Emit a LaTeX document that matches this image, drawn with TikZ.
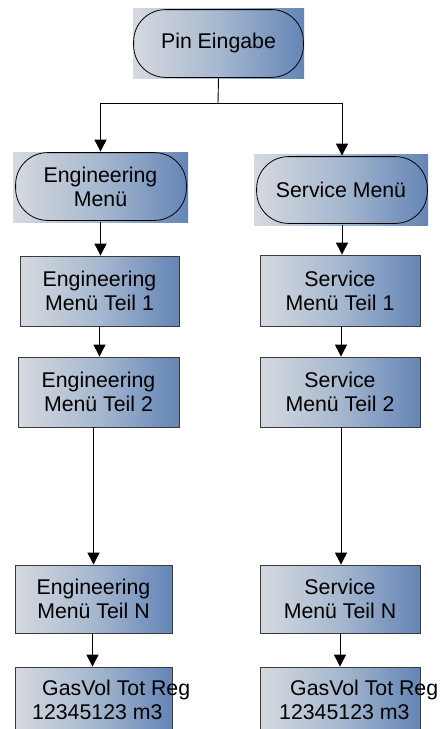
\documentclass[tikz,border=0pt]{standalone}
\usepackage{fontspec}
\setmainfont{Liberation Sans}
\usetikzlibrary{calc,arrows.meta}
\definecolor{shL}{HTML}{D6D9DF}
\definecolor{shM}{HTML}{A6B8CF}
\definecolor{shR}{HTML}{6485B6}
\definecolor{edge}{HTML}{3A3A3A}
\tikzset{
  shbox/.style={rectangle, inner sep=0pt, left color=shL, right color=shR, middle color=shM,
     draw=edge, line width=0.8pt, align=center,
     font=\fontsize{21.3pt}{24pt}\selectfont},
  stadbg/.style={shbox, draw=none},
  stadline/.style={draw=black, line width=0.8pt, rounded corners=32pt},
  txt/.style={inner sep=0pt, align=left, anchor=west, font=\fontsize{21.3pt}{24pt}\selectfont},
  conn/.style={draw=black, line width=0.9pt},
  arr/.style={conn, -{Triangle[length=12pt,width=12pt]}}
}
\begin{document}
\begin{tikzpicture}[x=1pt,y=-1pt]
\useasboundingbox (0,0) rectangle (441,729);
% start
\node[stadbg, minimum width=171pt, minimum height=70pt] (pin) at (218.5,43) {Pin Eingabe};
\draw[stadline] ($(pin.south west)+(1pt,1pt)$) rectangle ($(pin.north east)+(-1pt,-2pt)$);
% menus
\node[stadbg, minimum width=175pt, minimum height=70pt] (engm) at (100.5,187) {Engineering\\Menü};
\draw[stadline] ($(engm.south west)+(3pt,2pt)$) rectangle ($(engm.north east)+(-2pt,-1pt)$);
\node[stadbg, minimum width=174pt, minimum height=71pt] (serm) at (341,189.5) {Service Menü};
\draw[stadline] ($(serm.south west)+(3pt,2pt)$) rectangle ($(serm.north east)+(-1pt,-3pt)$);
% engineering column
\node[shbox, minimum width=159pt, minimum height=70pt] (e1) at (99.5,291) {Engineering\\Menü Teil 1};
\node[shbox, minimum width=161pt, minimum height=70pt] (e2) at (98.5,392) {Engineering\\Menü Teil 2};
\node[shbox, minimum width=157pt, minimum height=68pt] (eN) at (93.5,599) {Engineering\\Menü Teil N};
\node[shbox, minimum width=157pt, minimum height=62pt] (eg) at (93.5,698) {};
\node[txt] (egt) at (32,700) {\hspace*{10pt}GasVol Tot Reg\\12345123 m3};
% service column
\node[shbox, minimum width=160pt, minimum height=71pt] (s1) at (340,290.5) {Service\\Menü Teil 1};
\node[shbox, minimum width=160pt, minimum height=70pt] (s2) at (340,392) {Service\\Menü Teil 2};
\node[shbox, minimum width=160pt, minimum height=68pt] (sN) at (340,599) {Service\\Menü Teil N};
\node[shbox, minimum width=160pt, minimum height=62pt] (sg) at (340,698) {};
\node[txt] (sgt) at (279,700) {\hspace*{11pt}GasVol Tot Reg\\12345123 m3};
% connectors
\coordinate (split) at (218,103);
\draw[conn] (pin.south) -- (split);
\draw[arr] (split) -| (engm.north);
\draw[arr] (split) -| ($(serm.north)+(1pt,-2pt)$);
\draw[arr] (engm.south) -- (engm.south |- e1.north);
\draw[arr] (e1.south) -- (e1.south |- e2.north);
\draw[arr] (e2.south -| eN.north) -- (eN.north);
\draw[arr] ($(eN.south)+(-1pt,0)$) -- ($(eg.north)+(-1pt,0)$);
\draw[arr] ($(serm.south)+(1pt,0)$) -- ($(serm.south |- s1.north)+(1pt,0)$);
\draw[arr] ($(s1.south)+(1pt,0)$) -- ($(s2.north)+(1pt,0)$);
\draw[arr] ($(s2.south)+(1pt,0)$) -- ($(sN.north)+(1pt,0)$);
\draw[arr] (sN.south) -- (sg.north);
\end{tikzpicture}
\end{document}
